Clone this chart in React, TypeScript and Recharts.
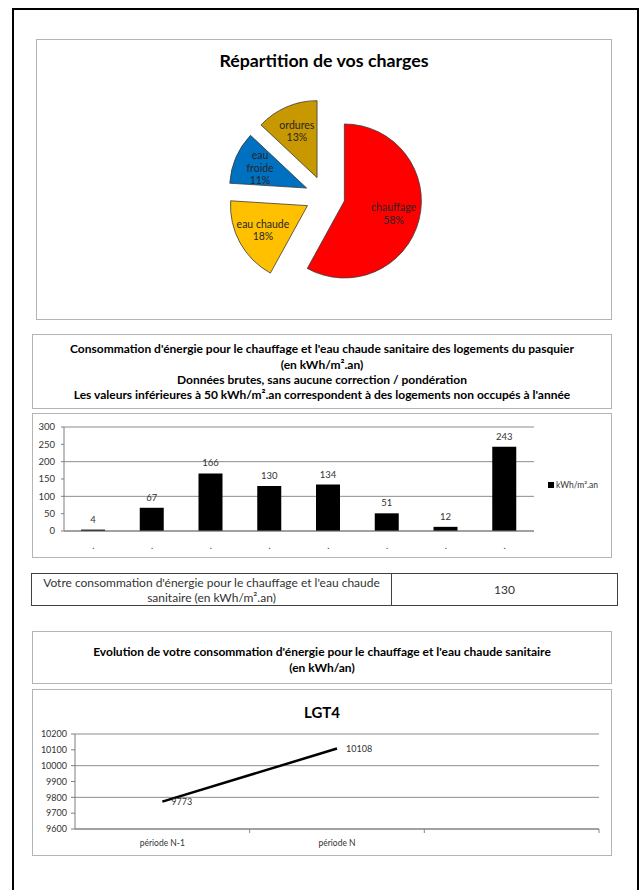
import React from 'react';
import {
  PieChart, Pie, Sector, BarChart, Bar, XAxis, YAxis, CartesianGrid,
  LabelList, Legend, LineChart, Line,
} from 'recharts';

const FONT = 'Lato, "Liberation Sans", sans-serif';

// ---------- data ----------
const chargeNames = ['chauffage', 'eau chaude', 'eau froide', 'ordures'];
const chargeShares = [58, 18, 11, 13];
const chargeColors = ['#FF0000', '#FFC000', '#0070C0', '#C89800'];
const pieTitle = 'Répartition de vos charges';

const barTitleLines = [
  "Consommation d'énergie pour le chauffage et l'eau chaude sanitaire des logements du pasquier",
  '(en kWh/m².an)',
  'Données brutes, sans aucune correction / pondération',
  "Les valeurs inférieures à 50 kWh/m².an correspondent à des logements non occupés à l'année",
];
const barCategories = ['.', '.', '.', '.', '.', '.', '.', '.'];
const barValues = [4, 67, 166, 130, 134, 51, 12, 243];
const barSeriesName = 'kWh/m².an';
const barTicks = [0, 50, 100, 150, 200, 250, 300];

const tableLabel = "Votre consommation d'énergie pour le chauffage et l'eau chaude sanitaire (en kWh/m².an)";
const tableValue = 130;

const lineTitleLines = [
  "Evolution de votre consommation d'énergie pour le chauffage et l'eau chaude sanitaire",
  '(en kWh/an)',
];
const lineTitle = 'LGT4';
const periods = ['période N-1', 'période N', ''];
const periodValues: (number | null)[] = [9773, 10108, null];
const lineTicks = [9600, 9700, 9800, 9900, 10000, 10100, 10200];

// ---------- derived tables ----------
const pieData = chargeNames.map((name, i) => ({ name, value: chargeShares[i] }));
const barData = barCategories.map((cat, i) => ({ cat, value: barValues[i] }));
const lineData = periods.map((p, i) => ({ period: p, value: periodValues[i] }));

const RAD = Math.PI / 180;
const EXPLODE = 20;
const BOX_BORDER = '1px solid #b4b4b4';

const renderSlice = (props: any) => {
  const { cx, cy, midAngle, outerRadius, startAngle, endAngle, index, percent, name } = props;
  const ux = Math.cos(-midAngle * RAD);
  const uy = Math.sin(-midAngle * RAD);
  const ex = cx + EXPLODE * ux;
  const ey = cy + EXPLODE * uy;
  const lr = outerRadius * 0.66;
  const lx = ex + lr * ux;
  const ly = ey + lr * uy;
  const pct = `${Math.round(percent * 100)}%`;
  const lines = percent < 0.12 ? [...String(name).split(' '), pct] : [name, pct];
  const lh = 12.5;
  return (
    <g key={`slice-${index}`}>
      <Sector
        cx={ex}
        cy={ey}
        innerRadius={0}
        outerRadius={outerRadius}
        startAngle={startAngle}
        endAngle={endAngle}
        fill={chargeColors[index]}
        stroke="#3a3a3a"
        strokeWidth={0.8}
      />
      <text
        x={lx}
        y={ly - ((lines.length - 1) * lh) / 2}
        textAnchor="middle"
        dominantBaseline="central"
        fontSize={10.5}
        fontFamily={FONT}
        fill="#262626"
      >
        {lines.map((l, i) => (
          <tspan key={i} x={lx} dy={i === 0 ? 0 : lh}>{l}</tspan>
        ))}
      </text>
    </g>
  );
};

const PeriodTick = (props: any) => {
  const { x, y, payload } = props;
  const off = payload && typeof payload.offset === 'number' ? payload.offset : 0;
  return (
    <g>
      <line x1={x + off} x2={x + off} y1={y - 8} y2={y - 4} stroke="#888" strokeWidth={1} />
      <text x={x} y={y} dy={9} textAnchor="middle" fontSize={8.5} fill="#333" fontFamily={FONT}>
        {payload.value}
      </text>
    </g>
  );
};

const BarLegend = (props: any) => {
  const items = props.payload || [];
  return (
    <div style={{ fontFamily: FONT, fontSize: 8.5, color: '#333' }}>
      {items.map((it: any, i: number) => (
        <div key={i} style={{ display: 'flex', alignItems: 'center', whiteSpace: 'nowrap' }}>
          <span style={{ display: 'inline-block', width: 6, height: 6, background: '#000', marginRight: 2 }} />
          <span>{it.value}</span>
        </div>
      ))}
    </div>
  );
};

const abs = (left: number, top: number, width: number, height: number, extra: React.CSSProperties = {}): React.CSSProperties => ({
  position: 'absolute', left, top, width, height, boxSizing: 'border-box', ...extra,
});

export default function App() {
  return (
    <div style={abs(0, 0, 641, 890, { overflow: 'hidden', background: '#fff', fontFamily: FONT })}>
      {/* page frame */}
      <div style={abs(12, 8, 627, 920, { border: '2px solid #000' })} />

      {/* pie box */}
      <div style={abs(36, 39, 576, 281, { border: BOX_BORDER })}>
        <div style={{ position: 'absolute', left: 0, right: 0, top: 10, textAlign: 'center', fontWeight: 700, fontSize: 17.8, lineHeight: '20px', color: '#000' }}>
          {pieTitle}
        </div>
        <div style={{ position: 'absolute', left: 0, top: 0 }}>
          <PieChart width={574} height={279} margin={{ top: 0, right: 0, bottom: 0, left: 0 }}>
            <Pie
              data={pieData}
              dataKey="value"
              nameKey="name"
              cx={288}
              cy={156}
              outerRadius={77}
              startAngle={90}
              endAngle={-270}
              fill="none"
              stroke="none"
              label={renderSlice}
              labelLine={false}
              isAnimationActive={false}
            />
          </PieChart>
        </div>
      </div>

      {/* bar title box */}
      <div style={abs(32, 334, 580, 75, { border: BOX_BORDER, display: 'flex', flexDirection: 'column', justifyContent: 'center', alignItems: 'center', paddingTop: 1 })}>
        {barTitleLines.map((l, i) => (
          <div key={i} style={{ fontWeight: 700, fontSize: 12, lineHeight: '15.3px', color: '#000', whiteSpace: 'nowrap' }}>{l}</div>
        ))}
      </div>

      {/* bar chart box */}
      <div style={abs(32, 413, 580, 145, { border: BOX_BORDER })}>
        <div style={{ position: 'absolute', left: 0, top: 0 }}>
          <BarChart width={578} height={143} data={barData} margin={{ top: 13, right: 77, bottom: 6, left: 0 }}>
            <CartesianGrid vertical={false} stroke="#8c8c8c" strokeWidth={1} />
            <XAxis
              dataKey="cat"
              interval={0}
              tickLine={false}
              tickSize={6}
              tickMargin={6}
              height={20}
              axisLine={{ stroke: '#7f7f7f' }}
              tick={{ fontSize: 9, fill: '#333', fontFamily: FONT }}
            />
            <YAxis
              domain={[0, 300]}
              ticks={barTicks}
              width={31}
              tickSize={3}
              tickMargin={6}
              axisLine={{ stroke: '#7f7f7f' }}
              tickLine={{ stroke: '#7f7f7f' }}
              tick={{ fontSize: 9.5, fill: '#333', fontFamily: FONT }}
            />
            <Legend
              layout="vertical"
              align="center"
              verticalAlign="middle"
              wrapperStyle={{ left: 515, top: 66, width: 62 }}
              content={<BarLegend />}
            />
            <Bar dataKey="value" name={barSeriesName} fill="#000" barSize={24} isAnimationActive={false}>
              <LabelList dataKey="value" position="top" offset={7} fontSize={9.5} fill="#333" fontFamily={FONT} />
            </Bar>
          </BarChart>
        </div>
      </div>

      {/* table */}
      <div style={abs(31, 573, 587, 33, { border: '1px solid #404040', display: 'flex' })}>
        <div style={{ width: 347, borderRight: '1px solid #404040', display: 'flex', alignItems: 'center', justifyContent: 'center', textAlign: 'center', fontSize: 12, lineHeight: '15px', color: '#333', padding: '0 6px' }}>
          {tableLabel}
        </div>
        <div style={{ flex: 1, display: 'flex', alignItems: 'center', justifyContent: 'center', fontSize: 12, color: '#333' }}>
          {tableValue}
        </div>
      </div>

      {/* line title box */}
      <div style={abs(32, 631, 580, 53, { border: BOX_BORDER, display: 'flex', flexDirection: 'column', justifyContent: 'center', alignItems: 'center', paddingTop: 4 })}>
        {lineTitleLines.map((l, i) => (
          <div key={i} style={{ fontWeight: 700, fontSize: 12, lineHeight: '16px', color: '#000', whiteSpace: 'nowrap' }}>{l}</div>
        ))}
      </div>

      {/* line chart box */}
      <div style={abs(32, 689, 580, 167, { border: BOX_BORDER })}>
        <div style={{ position: 'absolute', left: 0, right: 0, top: 13, textAlign: 'center', fontWeight: 700, fontSize: 15, lineHeight: '18px', color: '#000' }}>
          {lineTitle}
        </div>
        <div style={{ position: 'absolute', left: 0, top: 0 }}>
          <LineChart width={578} height={165} data={lineData} margin={{ top: 44, right: 12, bottom: 6, left: 0 }}>
            <CartesianGrid vertical={false} stroke="#8c8c8c" strokeWidth={1} />
            <XAxis
              dataKey="period"
              scale="band"
              interval={0}
              tickLine={false}
              tickSize={4}
              tickMargin={4}
              height={20}
              axisLine={{ stroke: '#7f7f7f' }}
              tick={<PeriodTick />}
            />
            <YAxis
              domain={[9600, 10200]}
              ticks={lineTicks}
              width={42}
              tickSize={4}
              tickMargin={4}
              axisLine={{ stroke: '#7f7f7f' }}
              tickLine={{ stroke: '#7f7f7f' }}
              tick={{ fontSize: 9, fill: '#333', fontFamily: FONT }}
            />
            <Line
              dataKey="value"
              stroke="#000"
              strokeWidth={2.5}
              dot={false}
              isAnimationActive={false}
              connectNulls={false}
            >
              <LabelList dataKey="value" position="right" offset={9} fontSize={9} fill="#333" fontFamily={FONT} />
            </Line>
          </LineChart>
        </div>
      </div>
    </div>
  );
}
